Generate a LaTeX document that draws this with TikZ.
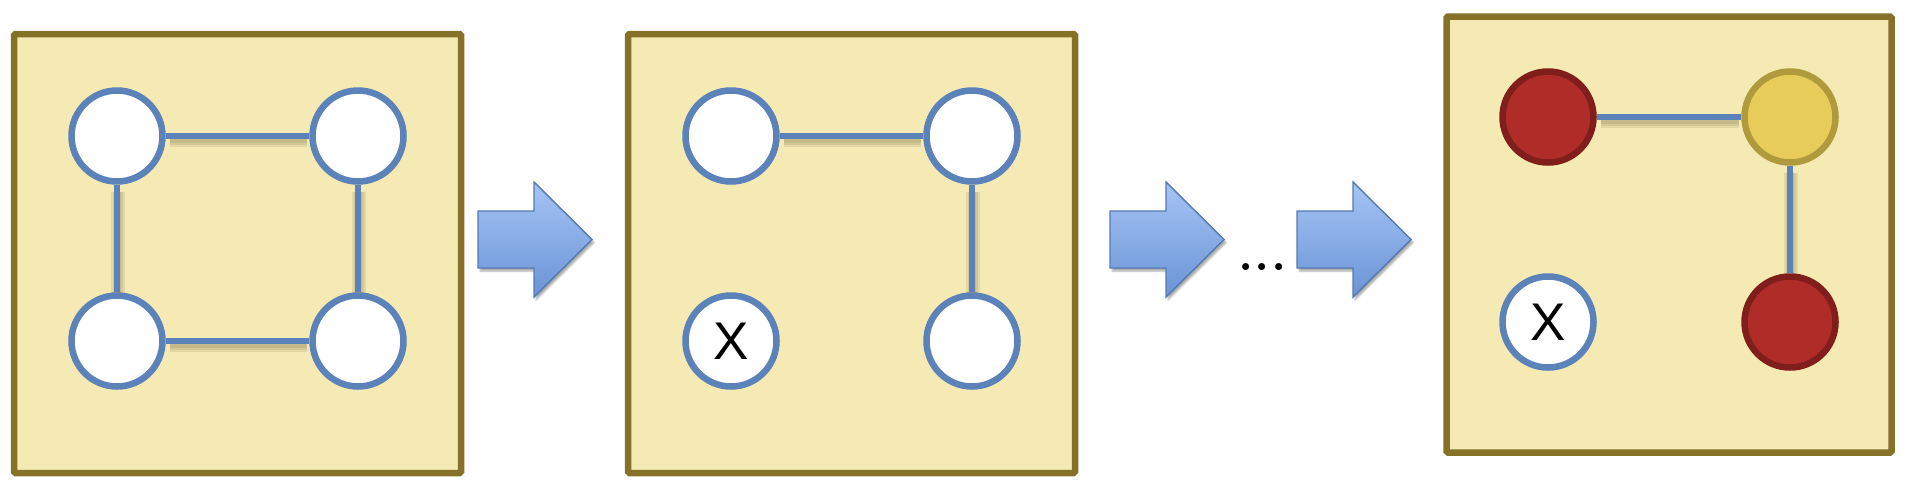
\documentclass[tikz,border=0pt]{standalone}
\usepackage{fontspec}
\setsansfont{Liberation Sans}
\usetikzlibrary{shadows.blur}
\definecolor{panelfill}{RGB}{245,234,180}
\definecolor{paneledge}{RGB}{133,114,40}
\definecolor{nodeblue}{RGB}{91,130,185}
\definecolor{redfill}{RGB}{175,44,41}
\definecolor{rededge}{RGB}{128,30,28}
\definecolor{yelfill}{RGB}{232,204,90}
\definecolor{yeledge}{RGB}{176,154,62}
\definecolor{arrtop}{RGB}{166,196,245}
\definecolor{arrbot}{RGB}{106,148,214}
\definecolor{arredge}{RGB}{84,122,180}
\definecolor{shadowcol}{RGB}{110,100,60}
\tikzset{
  panel/.style={fill=panelfill, draw=paneledge, line width=6.5pt, rounded corners=1.5pt},
  vert/.style={circle, minimum size=91pt, inner sep=0pt, line width=6.5pt, draw=nodeblue, fill=white,
    font=\sffamily\fontsize{53}{53}\selectfont},
  redv/.style={vert, draw=rededge, fill=redfill},
  yelv/.style={vert, draw=yeledge, fill=yelfill},
  link/.style={draw=nodeblue, line width=6pt},
  lshadow/.style={draw=shadowcol, draw opacity=0.13, line width=#1, shorten >=3pt, shorten <=3pt,
    transform canvas={yshift=-4pt, xshift=1pt}},
  bigarrow/.style={draw=arredge, line width=1.4pt, top color=arrtop, bottom color=arrbot,
    blur shadow={shadow xshift=2pt, shadow yshift=-3pt, shadow blur steps=6, shadow opacity=35}},
}
\newcommand{\linkit}[2]{%
  \draw[lshadow=14pt] (#1) -- (#2);
  \draw[lshadow=10pt] (#1) -- (#2);
  \draw[lshadow=6pt] (#1) -- (#2);
  \draw[link] (#1) -- (#2);}
\begin{document}
\begin{tikzpicture}[x=1pt,y=-1pt]
\useasboundingbox (0,0) rectangle (1910,488);
% panels
\draw[panel] (14,34) rectangle (461,473);
\draw[panel] (628,34) rectangle (1075,473);
\draw[panel] (1446.5,16.5) rectangle (1891.5,452.5);
% arrows
\foreach \dx in {0,632,819}{
  \begin{scope}[xshift=\dx pt]
    \path[bigarrow] (478,211) -- (534,211) -- (534,182) -- (592,239.5) -- (534,297) -- (534,268) -- (478,268) -- cycle;
  \end{scope}
}
\node[anchor=base, inner sep=0pt, font=\rmfamily\fontsize{85}{85}\selectfont] (dots) at (1262.5,270.5) {.\kern-5.1pt.\kern-5.1pt.};
% panel 1
\node[vert] (a1) at (117,136) {};
\node[vert] (b1) at (358,136) {};
\node[vert] (c1) at (117,341) {};
\node[vert] (d1) at (358,341) {};
\linkit{a1}{b1}
\linkit{c1}{d1}
\linkit{a1}{c1}
\linkit{b1}{d1}
% panel 2
\node[vert] (a2) at (731,136) {};
\node[vert] (b2) at (972,136) {};
\node[vert] (c2) at (731,341) {X};
\node[vert] (d2) at (972,341) {};
\linkit{a2}{b2}
\linkit{b2}{d2}
% panel 3
\node[redv] (a3) at (1548,117) {};
\node[yelv] (b3) at (1790,117) {};
\node[vert] (c3) at (1548,322) {X};
\node[redv] (d3) at (1790,322) {};
\linkit{a3}{b3}
\linkit{b3}{d3}
\end{tikzpicture}
\end{document}
